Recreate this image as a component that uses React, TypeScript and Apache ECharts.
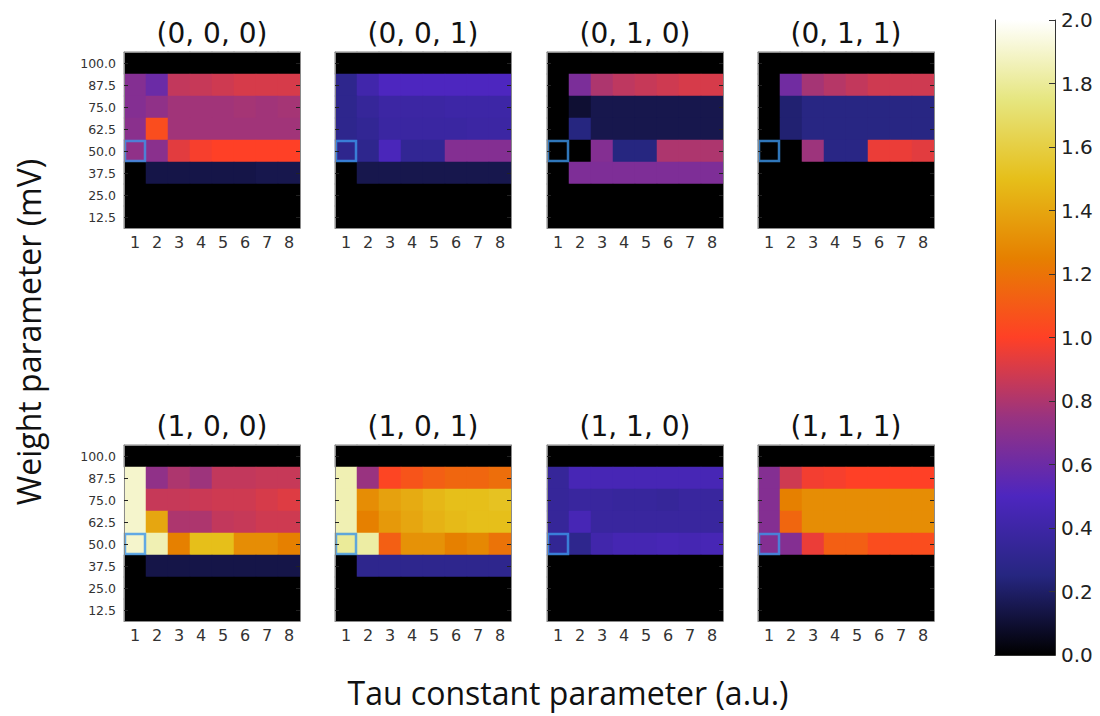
import React, { useEffect, useRef } from "react";
import * as echarts from "echarts";

const tauCategories = ["1", "2", "3", "4", "5", "6", "7", "8"];
const weightCategories = ["100.0", "87.5", "75.0", "62.5", "50.0", "37.5", "25.0", "12.5"];
const colorbarTicks = [0, 0.2, 0.4, 0.6, 0.8, 1.0, 1.2, 1.4, 1.6, 1.8, 2.0];
const highlightCell = ["1", "50.0"];

const panelTitles = ["(0, 0, 0)", "(0, 0, 1)", "(0, 1, 0)", "(0, 1, 1)", "(1, 0, 0)", "(1, 0, 1)", "(1, 1, 0)", "(1, 1, 1)"];

// rows top (100.0) to bottom (12.5), columns tau 1..8
const panel000 = [
  [0, 0, 0, 0, 0, 0, 0, 0],
  [0.68, 0.6, 0.85, 0.86, 0.88, 0.9, 0.9, 0.9],
  [0.68, 0.72, 0.77, 0.77, 0.77, 0.78, 0.77, 0.78],
  [0.7, 1.05, 0.77, 0.77, 0.77, 0.77, 0.77, 0.77],
  [0.72, 0.7, 0.93, 0.98, 1.0, 1.0, 1.0, 1.0],
  [0, 0.14, 0.14, 0.14, 0.14, 0.14, 0.15, 0.15],
  [0, 0, 0, 0, 0, 0, 0, 0],
  [0, 0, 0, 0, 0, 0, 0, 0],
];
const panel001 = [
  [0, 0, 0, 0, 0, 0, 0, 0],
  [0.3, 0.42, 0.5, 0.5, 0.5, 0.5, 0.5, 0.5],
  [0.3, 0.35, 0.39, 0.39, 0.39, 0.4, 0.4, 0.4],
  [0.3, 0.33, 0.38, 0.38, 0.38, 0.38, 0.39, 0.39],
  [0.3, 0.3, 0.48, 0.33, 0.33, 0.68, 0.68, 0.68],
  [0, 0.15, 0.15, 0.15, 0.15, 0.15, 0.15, 0.15],
  [0, 0, 0, 0, 0, 0, 0, 0],
  [0, 0, 0, 0, 0, 0, 0, 0],
];
const panel010 = [
  [0, 0, 0, 0, 0, 0, 0, 0],
  [0, 0.65, 0.8, 0.84, 0.86, 0.88, 0.9, 0.9],
  [0, 0.1, 0.15, 0.15, 0.15, 0.15, 0.15, 0.15],
  [0, 0.25, 0.15, 0.15, 0.15, 0.15, 0.15, 0.15],
  [0, 0, 0.68, 0.25, 0.25, 0.8, 0.8, 0.8],
  [0, 0.66, 0.66, 0.66, 0.66, 0.66, 0.66, 0.66],
  [0, 0, 0, 0, 0, 0, 0, 0],
  [0, 0, 0, 0, 0, 0, 0, 0],
];
const panel011 = [
  [0, 0, 0, 0, 0, 0, 0, 0],
  [0, 0.62, 0.78, 0.82, 0.85, 0.88, 0.88, 0.88],
  [0, 0.22, 0.26, 0.26, 0.26, 0.26, 0.26, 0.26],
  [0, 0.22, 0.26, 0.26, 0.26, 0.26, 0.26, 0.26],
  [0, 0, 0.76, 0.27, 0.27, 0.95, 0.95, 0.93],
  [0, 0, 0, 0, 0, 0, 0, 0],
  [0, 0, 0, 0, 0, 0, 0, 0],
  [0, 0, 0, 0, 0, 0, 0, 0],
];
const panel100 = [
  [0, 0, 0, 0, 0, 0, 0, 0],
  [1.9, 0.72, 0.8, 0.76, 0.85, 0.85, 0.86, 0.86],
  [1.9, 0.86, 0.86, 0.87, 0.88, 0.88, 0.9, 0.92],
  [1.9, 1.4, 0.8, 0.8, 0.85, 0.86, 0.88, 0.88],
  [1.9, 1.85, 1.25, 1.5, 1.5, 1.3, 1.3, 1.25],
  [0, 0.14, 0.14, 0.14, 0.14, 0.14, 0.14, 0.14],
  [0, 0, 0, 0, 0, 0, 0, 0],
  [0, 0, 0, 0, 0, 0, 0, 0],
];
const panel101 = [
  [0, 0, 0, 0, 0, 0, 0, 0],
  [1.85, 0.75, 1.02, 1.08, 1.12, 1.15, 1.15, 1.18],
  [1.85, 1.3, 1.38, 1.42, 1.47, 1.5, 1.5, 1.52],
  [1.85, 1.25, 1.35, 1.4, 1.45, 1.48, 1.5, 1.5],
  [1.8, 1.82, 1.12, 1.32, 1.32, 1.25, 1.28, 1.2],
  [0, 0.3, 0.3, 0.3, 0.3, 0.3, 0.3, 0.3],
  [0, 0, 0, 0, 0, 0, 0, 0],
  [0, 0, 0, 0, 0, 0, 0, 0],
];
const panel110 = [
  [0, 0, 0, 0, 0, 0, 0, 0],
  [0.35, 0.46, 0.46, 0.46, 0.46, 0.46, 0.46, 0.46],
  [0.35, 0.37, 0.37, 0.36, 0.36, 0.35, 0.37, 0.37],
  [0.35, 0.46, 0.37, 0.37, 0.37, 0.37, 0.37, 0.37],
  [0.33, 0.3, 0.42, 0.45, 0.45, 0.46, 0.45, 0.46],
  [0, 0, 0, 0, 0, 0, 0, 0],
  [0, 0, 0, 0, 0, 0, 0, 0],
  [0, 0, 0, 0, 0, 0, 0, 0],
];
const panel111 = [
  [0, 0, 0, 0, 0, 0, 0, 0],
  [0.68, 0.88, 0.97, 0.98, 1.0, 1.0, 1.0, 1.0],
  [0.68, 1.25, 1.3, 1.3, 1.3, 1.3, 1.3, 1.3],
  [0.68, 1.15, 1.3, 1.3, 1.3, 1.3, 1.3, 1.3],
  [0.68, 0.68, 0.95, 1.12, 1.12, 1.05, 1.05, 1.05],
  [0, 0, 0, 0, 0, 0, 0, 0],
  [0, 0, 0, 0, 0, 0, 0, 0],
  [0, 0, 0, 0, 0, 0, 0, 0],
];

const panels = [panel000, panel001, panel010, panel011, panel100, panel101, panel110, panel111];

// CMRmap colour stops
const cmrColors = ["#000000", "#262680", "#4d26bf", "#993380", "#ff4026", "#e68000", "#e6bf1a", "#e6e680", "#ffffff"];

const colLefts = [124, 335, 547, 758];
const rowTops = [52, 445];
const gridW = 176;
const gridH = 176;
const cb = { left: 995, top: 20, width: 60, height: 635 };

export default function App() {
  const ref = useRef<HTMLDivElement>(null);
  useEffect(() => {
    document.body.style.margin = "0";
    const chart = echarts.init(ref.current!, null, { renderer: "svg" });
    const grids: any[] = [];
    const xAxes: any[] = [];
    const yAxes: any[] = [];
    const series: any[] = [];
    const graphics: any[] = [];
    const heatIdx: number[] = [];
    const frame = "#8a8a8a";
    const tickFont = "DejaVu Sans";

    panels.forEach((m, p) => {
      const col = p % 4;
      const row = Math.floor(p / 4);
      grids.push({ left: colLefts[col], top: rowTops[row], width: gridW, height: gridH, show: true, backgroundColor: "#000", borderWidth: 0 });
      const xi = xAxes.length;
      const yi = yAxes.length;
      xAxes.push({
        type: "category", gridIndex: p, data: tauCategories, position: "bottom", z: 10,
        axisLine: { show: true, lineStyle: { color: frame, width: 1 } },
        axisTick: { show: false },
        axisLabel: { fontSize: 16, color: "#333", margin: 6, fontFamily: tickFont },
        splitLine: { show: false },
      });
      xAxes.push({
        type: "category", gridIndex: p, data: tauCategories, position: "top", z: 10,
        axisLine: { show: true, lineStyle: { color: frame, width: 1 } },
        axisTick: { show: false }, axisLabel: { show: false }, splitLine: { show: false },
      });
      yAxes.push({
        type: "category", gridIndex: p, data: weightCategories, inverse: true, position: "left", z: 10,
        axisLine: { show: true, lineStyle: { color: frame, width: 1 } },
        axisTick: { show: true, inside: true, length: 4, alignWithLabel: true, lineStyle: { color: "#222" } },
        axisLabel: { show: col === 0, fontSize: 12.5, color: "#333", margin: 8, fontFamily: tickFont },
        splitLine: { show: false },
      });
      yAxes.push({
        type: "category", gridIndex: p, data: weightCategories, inverse: true, position: "right", z: 10,
        axisLine: { show: true, lineStyle: { color: frame, width: 1 } },
        axisTick: { show: true, inside: true, length: 4, alignWithLabel: true, lineStyle: { color: "#222" } },
        axisLabel: { show: false }, splitLine: { show: false },
      });
      const data: any[] = [];
      m.forEach((r, ri) => r.forEach((v, ci) => data.push([ci, ri, v])));
      heatIdx.push(series.length);
      series.push({
        type: "heatmap", xAxisIndex: xi, yAxisIndex: yi, data,
        itemStyle: { borderWidth: 0 }, emphasis: { disabled: true },
      });
      series.push({
        type: "scatter", xAxisIndex: xi, yAxisIndex: yi, z: 5,
        data: [[tauCategories.indexOf(highlightCell[0]), weightCategories.indexOf(highlightCell[1])]],
        symbol: "rect", symbolSize: [20, 20],
        itemStyle: { color: "rgba(0,0,0,0)", borderColor: "#3c95ea", borderWidth: 2.5 },
        silent: true,
      });
      graphics.push({
        type: "text", x: colLefts[col] + gridW / 2, y: rowTops[row] - 19,
        style: { text: panelTitles[p], fontSize: 28, fontFamily: "DejaVu Sans", fill: "#111", textAlign: "center", textVerticalAlign: "middle" },
      });
    });

    // colour bar
    const cbGrid = grids.length;
    grids.push({ left: cb.left, top: cb.top, width: cb.width, height: cb.height });
    const cbx = xAxes.length;
    xAxes.push({
      type: "category", gridIndex: cbGrid, data: [""], position: "bottom", z: 10,
      axisLine: { show: true, lineStyle: { color: "#333" } }, axisTick: { show: false }, axisLabel: { show: false },
    });
    xAxes.push({
      type: "category", gridIndex: cbGrid, data: [""], position: "top", z: 10,
      axisLine: { show: true, lineStyle: { color: "#333" } }, axisTick: { show: false }, axisLabel: { show: false },
    });
    const cby = yAxes.length;
    yAxes.push({
      type: "value", gridIndex: cbGrid, min: colorbarTicks[0], max: colorbarTicks[colorbarTicks.length - 1], interval: 0.2,
      position: "right", z: 10,
      axisLine: { show: true, lineStyle: { color: "#333" } },
      axisTick: { show: true, inside: true, length: 6, lineStyle: { color: "#333" } },
      axisLabel: { fontSize: 20, color: "#222", margin: 6, fontFamily: tickFont, formatter: (v: number) => v.toFixed(1) },
      splitLine: { show: false },
    });
    yAxes.push({
      type: "value", gridIndex: cbGrid, min: 0, max: 2, position: "left", z: 10,
      axisLine: { show: true, lineStyle: { color: "#333" } }, axisTick: { show: false }, axisLabel: { show: false }, splitLine: { show: false },
    });
    series.push({
      type: "bar", xAxisIndex: cbx, yAxisIndex: cby, data: [colorbarTicks[colorbarTicks.length - 1]],
      barWidth: "100%", silent: true,
      itemStyle: {
        color: new echarts.graphic.LinearGradient(0, 1, 0, 0,
          cmrColors.map((c, i) => ({ offset: i / (cmrColors.length - 1), color: c }))),
      },
    });

    graphics.push({
      type: "text", x: 568, y: 692,
      style: { text: "Tau constant parameter (a.u.)", fontSize: 32, fontFamily: "Open Sans", fill: "#111", textAlign: "center", textVerticalAlign: "middle" },
    });
    graphics.push({
      type: "text", x: 28, y: 332, rotation: Math.PI / 2,
      style: { text: "Weight parameter (mV)", fontSize: 32, fontFamily: "Open Sans", fill: "#111", textAlign: "center", textVerticalAlign: "middle" },
    });

    chart.setOption({
      animation: false,
      backgroundColor: "#ffffff",
      grid: grids,
      xAxis: xAxes,
      yAxis: yAxes,
      visualMap: {
        type: "continuous", show: false, min: 0, max: 2, seriesIndex: heatIdx,
        inRange: { color: cmrColors },
      },
      series,
      graphic: graphics,
    });
    return () => chart.dispose();
  }, []);
  return <div ref={ref} style={{ width: 1100, height: 716 }} />;
}
